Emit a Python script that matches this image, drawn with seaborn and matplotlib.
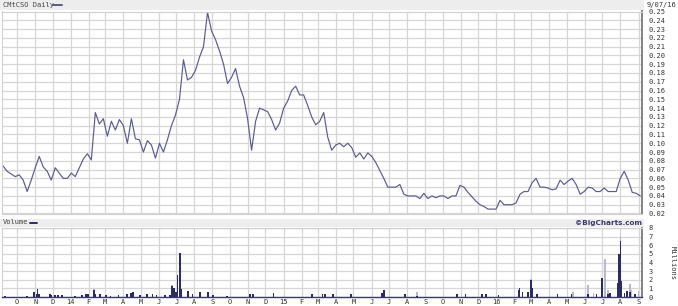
import numpy as np
import pandas as pd
import matplotlib
matplotlib.use("Agg")
import matplotlib.pyplot as plt
import matplotlib.dates as mdates
from matplotlib.patches import Rectangle
from matplotlib.lines import Line2D
import seaborn as sns

# ---------------- data ----------------
price_start = "2013-09-07"
price_end = "2016-09-04"
prices = [
    0.074, 0.068, 0.065, 0.062, 0.064, 0.058, 0.045, 0.058, 0.072, 0.085,
    0.073, 0.068, 0.058, 0.072, 0.066, 0.060, 0.060, 0.066, 0.062, 0.072,
    0.082, 0.088, 0.081, 0.135, 0.122, 0.128, 0.108, 0.125, 0.115, 0.127,
    0.120, 0.100, 0.128, 0.105, 0.104, 0.090, 0.103, 0.098, 0.083, 0.100,
    0.090, 0.104, 0.120, 0.132, 0.150, 0.195, 0.172, 0.175, 0.183, 0.198,
    0.210, 0.249, 0.228, 0.218, 0.205, 0.190, 0.168, 0.175, 0.185, 0.165,
    0.152, 0.128, 0.092, 0.125, 0.140, 0.138, 0.136, 0.127, 0.115, 0.123,
    0.140, 0.148, 0.160, 0.165, 0.155, 0.155, 0.143, 0.130, 0.121, 0.125,
    0.135, 0.107, 0.092, 0.098, 0.100, 0.096, 0.100, 0.095, 0.084, 0.089,
    0.082, 0.089, 0.085, 0.078, 0.069, 0.060, 0.050, 0.050, 0.050, 0.053,
    0.042, 0.040, 0.040, 0.040, 0.037, 0.043, 0.037, 0.040, 0.038, 0.040,
    0.040, 0.037, 0.040, 0.040, 0.052, 0.050, 0.044, 0.039, 0.034, 0.030,
    0.028, 0.025, 0.025, 0.025, 0.035, 0.030, 0.030, 0.030, 0.032, 0.042,
    0.045, 0.045, 0.055, 0.060, 0.050, 0.050, 0.049, 0.047, 0.048, 0.058,
    0.053, 0.057, 0.060, 0.053, 0.042, 0.045, 0.050, 0.049, 0.045, 0.045,
    0.049, 0.045, 0.045, 0.045, 0.060, 0.068, 0.058, 0.044, 0.043, 0.040,
]

vol_dark_dates = [
    "2013-09-10", "2013-10-18", "2013-10-30", "2013-11-04", "2013-11-05", "2013-11-08",
    "2013-11-26", "2013-11-29", "2013-12-05", "2013-12-10", "2013-12-17", "2014-01-08",
    "2014-01-20", "2014-01-27", "2014-01-30", "2014-02-10", "2014-02-12", "2014-02-20",
    "2014-03-03", "2014-03-10", "2014-03-24", "2014-04-07", "2014-04-14", "2014-04-18",
    "2014-04-30", "2014-05-12", "2014-05-21", "2014-05-28", "2014-06-12", "2014-06-20",
    "2014-06-24", "2014-06-27", "2014-07-01", "2014-07-03", "2014-07-07", "2014-07-08",
    "2014-07-10", "2014-07-21", "2014-07-29", "2014-08-11", "2014-08-25", "2014-09-02",
    "2014-09-26", "2014-11-04", "2014-11-10", "2014-12-15", "2015-02-19", "2015-03-09",
    "2015-03-13", "2015-03-27", "2015-04-27", "2015-06-19", "2015-06-22", "2015-07-29",
    "2015-08-18", "2015-10-26", "2015-11-09", "2015-12-07", "2015-12-14", "2016-01-05",
    "2016-02-08", "2016-02-10", "2016-02-15", "2016-02-25", "2016-03-01", "2016-03-03",
    "2016-03-11", "2016-04-15", "2016-05-09", "2016-06-06", "2016-06-21", "2016-07-01",
    "2016-07-11", "2016-07-14", "2016-07-28", "2016-07-29", "2016-08-01", "2016-08-03",
    "2016-08-08", "2016-08-12", "2016-08-17", "2016-08-26",
]
vol_dark = [
    0.1, 0.15, 0.6, 0.35, 0.9, 0.4,
    0.3, 0.25, 0.2, 0.25, 0.2, 0.15,
    0.2, 0.3, 0.3, 0.8, 0.4, 0.3,
    0.2, 0.15, 0.2, 0.3, 0.5, 0.6,
    0.2, 0.3, 0.35, 0.2, 0.2, 0.2,
    1.3, 1.1, 0.6, 2.6, 5.1, 1.4,
    0.9, 0.7, 0.3, 0.6, 0.6, 0.2,
    0.1, 0.4, 0.3, 0.5, 0.3, 0.3,
    0.3, 0.3, 0.3, 0.5, 0.8, 0.3,
    0.1, 0.3, 0.3, 0.3, 0.4, 0.2,
    0.8, 1.0, 0.6, 0.6, 2.0, 1.0,
    0.3, 0.3, 0.3, 0.3, 0.3, 2.2,
    0.3, 0.5, 1.6, 5.0, 6.5, 1.8,
    0.5, 0.7, 0.6, 0.3,
]
vol_light_dates = [
    "2014-02-10", "2014-06-24", "2015-08-18", "2016-03-01", "2016-05-12", "2016-06-06",
    "2016-06-16", "2016-07-05", "2016-07-11", "2016-08-01", "2016-08-17", "2016-08-19",
    "2016-09-01",
]
vol_light = [0.9, 1.4, 0.6, 2.1, 0.6, 1.4, 0.5, 4.4, 0.8, 7.1, 1.5, 0.8, 0.7]

month_labels = ["O", "N", "D", "14", "F", "M", "A", "M", "J", "J", "A", "S",
                "O", "N", "D", "15", "F", "M", "A", "M", "J", "J", "A", "S",
                "O", "N", "D", "16", "F", "M", "A", "M", "J", "J", "A", "S"]
price_ticks = [round(0.02 + 0.01 * k, 2) for k in range(24)]
vol_ticks = list(range(9))

# ---------------- style ----------------
sns.set_theme(style="white")
plt.rcParams["font.family"] = ["DejaVu Sans Mono", "DejaVu Sans"]

LINE = "#5a5a8d"
DARK = "#2c2c63"
LIGHT = "#b7b7cf"
GRID = "#d6d6d6"
TXT = "#333333"

W, H = 678, 306
fig = plt.figure(figsize=(W / 100, H / 100), dpi=100)
fig.patch.set_facecolor("white")


def rect(x0, y0, x1, y1):
    return [x0 / W, 1 - y1 / H, (x1 - x0) / W, (y1 - y0) / H]


# header strips
fig.patches.append(Rectangle((0, 1 - 9.5 / H), 644 / W, 9 / H, transform=fig.transFigure,
                             facecolor="#ededed", edgecolor="none", zorder=0))
fig.patches.append(Rectangle((0, 1 - 226.5 / H), 644 / W, 8 / H, transform=fig.transFigure,
                             facecolor="#ededed", edgecolor="none", zorder=0))

ax = fig.add_axes(rect(2, 11.5, 642, 213.5))
axv = fig.add_axes(rect(2, 228, 642, 297), sharex=ax)

dates = pd.date_range(price_start, price_end, periods=len(prices))
df = pd.DataFrame({"date": dates, "price": prices})
sns.lineplot(data=df, x="date", y="price", ax=ax, color=LINE, lw=0.85)

vd = pd.to_datetime(vol_dark_dates)
vl = pd.to_datetime(vol_light_dates)
axv.bar(vl, vol_light, width=3.0, color=LIGHT, linewidth=0, zorder=2)
axv.bar(vd, vol_dark, width=3.0, color=DARK, linewidth=0, zorder=3)

month_starts = pd.date_range("2013-10-01", "2016-09-01", freq="MS")
xmin = pd.Timestamp("2013-09-05")
xmax = pd.Timestamp("2016-09-07")

for a in (ax, axv):
    a.set_xlim(xmin, xmax)
    a.set_xticks(month_starts)
    a.grid(True, color=GRID, lw=0.9)
    a.set_axisbelow(True)
    a.set_xlabel("")
    a.set_ylabel("")
    a.yaxis.tick_right()
    a.tick_params(axis="both", length=0, labelsize=5, colors=TXT)
    for s in ("left", "top", "bottom"):
        a.spines[s].set_color("#cfcfcf")
        a.spines[s].set_linewidth(0.8)
    a.spines["right"].set_color("#7a7a7a")
    a.spines["right"].set_linewidth(1.3)

axv.spines["bottom"].set_color("#3a3a6a")
axv.spines["bottom"].set_linewidth(1.0)

ax.set_ylim(0.02, 0.25)
ax.set_yticks(price_ticks)
ax.set_yticklabels([f"{t:.2f}" for t in price_ticks])
ax.tick_params(axis="y", pad=4.5)
ax.tick_params(axis="x", labelbottom=False)

axv.set_ylim(0, 8)
axv.set_yticks(vol_ticks)
axv.set_yticklabels([str(t) for t in vol_ticks])
axv.tick_params(axis="y", pad=4.5)
axv.set_xticklabels(month_labels)
axv.tick_params(axis="x", pad=1.5)

# texts
fig.text(3 / W, 1 - 5 / H, "CMtCSO Daily", fontsize=5, color="#444444", va="center", ha="left")
fig.add_artist(Line2D([53 / W, 62 / W], [1 - 5 / H, 1 - 5 / H], color=LINE, lw=1.4,
                      transform=fig.transFigure))
fig.text(3 / W, 1 - 222.5 / H, "Volume", fontsize=5, color="#444444", va="center", ha="left")
fig.add_artist(Line2D([30 / W, 37 / W], [1 - 222.5 / H, 1 - 222.5 / H], color=DARK, lw=1.4,
                      transform=fig.transFigure))
fig.text(642 / W, 1 - 222.5 / H, "©BigCharts.com", fontsize=5.2, color="#3a3a6a",
         va="center", ha="right", fontweight="bold", family=["DejaVu Sans"])
fig.text(676 / W, 1 - 5 / H, "9/07/16", fontsize=5, color=TXT, va="center", ha="right")
fig.text(673 / W, 1 - 263 / H, "Millions", fontsize=5, color=TXT, va="center", ha="center",
         rotation=270)

fig.savefig("out.png", dpi=100)
